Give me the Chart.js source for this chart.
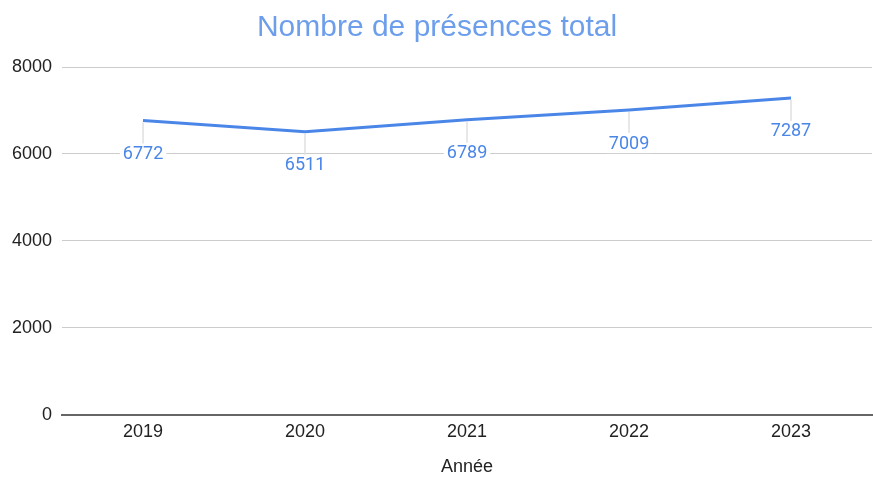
<!DOCTYPE html>
<html>
<head>
<meta charset="utf-8">
<script src="https://cdn.jsdelivr.net/npm/chart.js@4"></script>
<style>
  html, body { margin: 0; padding: 0; background: #fff; }
  #wrap { width: 873px; height: 478px; }
</style>
</head>
<body>
<div id="wrap"><canvas id="chart" width="873" height="478"></canvas></div>
<script>
const years = ['2019', '2020', '2021', '2022', '2023'];
const presences = [6772, 6511, 6789, 7009, 7287];
const yTicks = [0, 2000, 4000, 6000, 8000];

const lineColor = '#4a86e8';
const font = "'Liberation Sans', Arial, sans-serif";

// labels under each point, with a small grey leader line
const pointLabels = {
  id: 'pointLabels',
  afterDatasetsDraw(chart) {
    const ctx = chart.ctx;
    const meta = chart.getDatasetMeta(0);
    ctx.save();
    meta.data.forEach((pt, i) => {
      ctx.strokeStyle = '#e0e0e0';
      ctx.lineWidth = 1.5;
      ctx.beginPath();
      ctx.moveTo(pt.x, pt.y + 2);
      ctx.lineTo(pt.x, pt.y + 23);
      ctx.stroke();
      ctx.font = "18px Roboto, 'Liberation Sans', sans-serif";
      ctx.textAlign = 'center';
      ctx.textBaseline = 'middle';
      const txt = String(presences[i]);
      const w = ctx.measureText(txt).width;
      ctx.fillStyle = '#fff';
      ctx.fillRect(pt.x - w / 2 - 3, pt.y + 25, w + 6, 18);
      ctx.fillStyle = lineColor;
      ctx.fillText(txt, pt.x, pt.y + 34);
    });
    ctx.restore();
  }
};

new Chart(document.getElementById('chart'), {
  type: 'line',
  data: {
    labels: years,
    datasets: [{
      label: 'Nombre de présences total',
      data: presences,
      borderColor: lineColor,
      borderWidth: 3,
      pointRadius: 0,
      tension: 0,
      fill: false
    }]
  },
  options: {
    responsive: false,
    animation: false,
    layout: { padding: { left: 2, right: 1, top: 0, bottom: 0 } },
    plugins: {
      legend: { display: false },
      tooltip: { enabled: false },
      title: {
        display: true,
        text: 'Nombre de présences total',
        color: '#6d9eeb',
        font: { family: font, size: 30, weight: 'normal' },
        padding: { top: 10, bottom: 21 }
      }
    },
    scales: {
      x: {
        offset: true,
        grid: { display: false, drawTicks: false },
        border: { display: true, color: '#666', width: 2 },
        ticks: { color: '#222', font: { family: font, size: 18 }, padding: 6 },
        title: {
          display: true,
          text: 'Année',
          color: '#222',
          font: { family: font, size: 18 },
          padding: { top: 8, bottom: 0 }
        }
      },
      y: {
        min: 0,
        max: 8000,
        afterBuildTicks(scale) { scale.ticks = yTicks.map(v => ({ value: v })); },
        grid: { color: '#cccccc', lineWidth: 1, drawTicks: false },
        border: { display: false },
        ticks: {
          color: '#222',
          font: { family: font, size: 18 },
          padding: 10,
          callback: v => String(v)
        }
      }
    }
  },
  plugins: [pointLabels]
});
</script>
</body>
</html>
